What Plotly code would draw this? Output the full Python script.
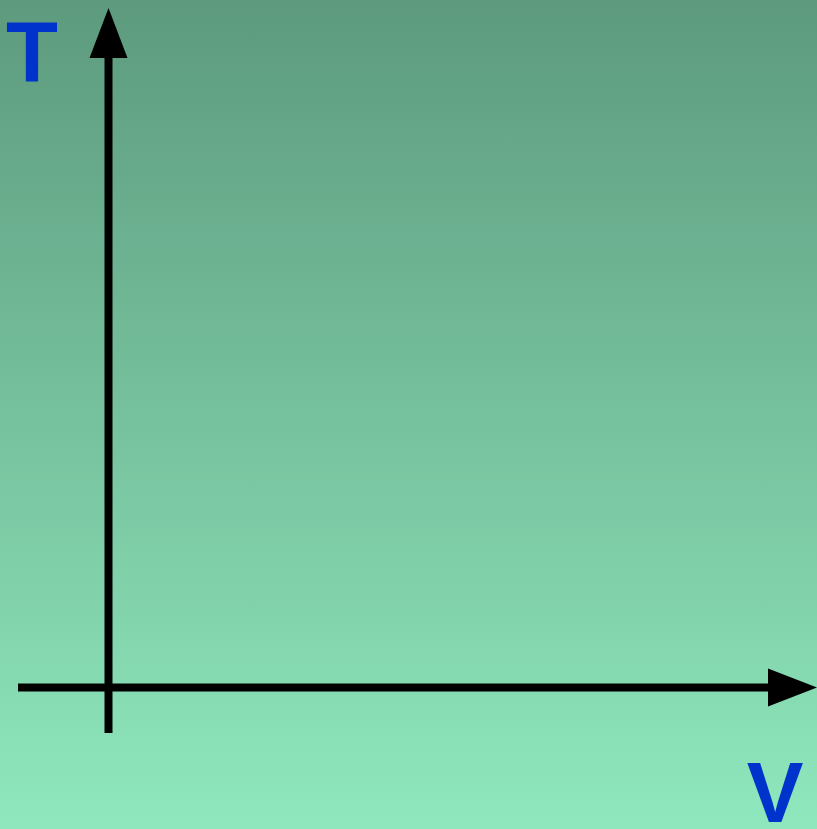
import plotly.graph_objects as go

# Diagram geometry (canvas units, y grows downward)
W, H = 817, 829
x_axis_start = [18, 687.5]
x_axis_end = [768, 687.5]
x_arrow_tip = [817, 687.5]
y_axis_start = [108.5, 733]
y_axis_end = [108.5, 58]
y_arrow_tip = [108.5, 8]
arrow_half_width = 19
axis_labels = ["T", "V"]
label_pos = [[32, 59.5], [775, 800.5]]
bg_top, bg_bottom = "#5d9a7e", "#8fe8bd"
label_color = "#0033cc"

fig = go.Figure()

# gradient background
fig.add_trace(go.Scatter(
    x=[0, W, W, 0, 0], y=[0, 0, H, H, 0], mode="lines", line=dict(width=0),
    fill="toself",
    fillgradient=dict(type="vertical", colorscale=[[0, bg_bottom], [1, bg_top]]),
    hoverinfo="skip", showlegend=False))

# axis lines
fig.add_trace(go.Scatter(x=[x_axis_start[0], x_axis_end[0]], y=[x_axis_start[1], x_axis_end[1]],
                         mode="lines", line=dict(color="black", width=8), showlegend=False))
fig.add_trace(go.Scatter(x=[y_axis_start[0], y_axis_end[0]], y=[y_axis_start[1], y_axis_end[1]],
                         mode="lines", line=dict(color="black", width=8), showlegend=False))

# arrowheads
fig.add_trace(go.Scatter(
    x=[x_axis_end[0], x_arrow_tip[0], x_axis_end[0], x_axis_end[0]],
    y=[x_axis_end[1] - arrow_half_width, x_arrow_tip[1], x_axis_end[1] + arrow_half_width, x_axis_end[1] - arrow_half_width],
    mode="lines", fill="toself", fillcolor="black", line=dict(width=0, color="black"), showlegend=False))
fig.add_trace(go.Scatter(
    x=[y_axis_end[0] - arrow_half_width, y_arrow_tip[0], y_axis_end[0] + arrow_half_width, y_axis_end[0] - arrow_half_width],
    y=[y_axis_end[1], y_arrow_tip[1], y_axis_end[1], y_axis_end[1]],
    mode="lines", fill="toself", fillcolor="black", line=dict(width=0, color="black"), showlegend=False))

# labels
fig.add_trace(go.Scatter(
    x=[p[0] for p in label_pos], y=[p[1] for p in label_pos], mode="text", text=axis_labels,
    textposition="middle center", cliponaxis=False,
    textfont=dict(family="Liberation Sans", size=85, color=label_color, weight="bold"),
    showlegend=False, hoverinfo="skip"))

fig.update_layout(
    width=W, height=H, margin=dict(l=0, r=0, t=0, b=0),
    paper_bgcolor=bg_bottom, plot_bgcolor=bg_bottom,
    xaxis=dict(range=[0, W], visible=False, fixedrange=True),
    yaxis=dict(range=[H, 0], visible=False, fixedrange=True),
    showlegend=False,
)
fig.write_html("out.html", config={"displayModeBar": False},
               post_script="document.body.style.margin='0';document.body.style.overflow='hidden';")
